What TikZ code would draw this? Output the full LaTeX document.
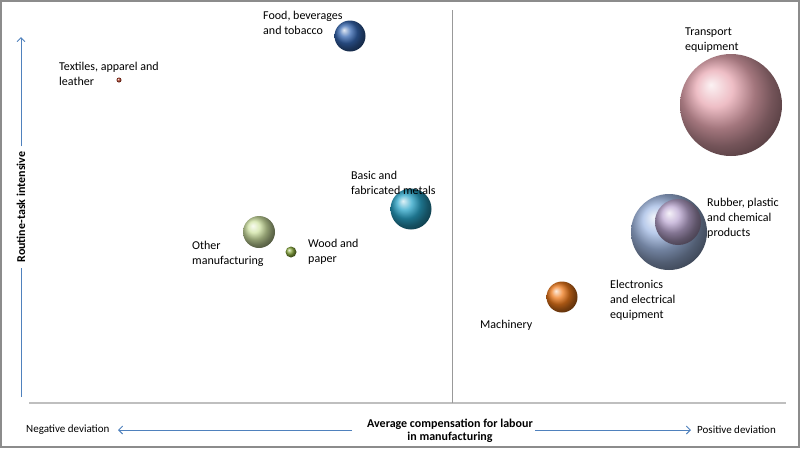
\documentclass[tikz,border=0pt]{standalone}
\usepackage{fontspec}
\setmainfont{Carlito}
\usetikzlibrary{arrows.meta}
\definecolor{axisblue}{HTML}{4F81BD}
\definecolor{framegray}{HTML}{8C8C8C}
\definecolor{gridgray}{HTML}{BFBFBF}
\definecolor{cfood}{HTML}{3566B0}
\definecolor{ctext}{HTML}{A83822}
\definecolor{ctrans}{HTML}{E8A8B2}
\definecolor{cmetal}{HTML}{2AA4C8}
\definecolor{cother}{HTML}{CFE2A2}
\definecolor{cwood}{HTML}{86A63C}
\definecolor{celec}{HTML}{A2BAE4}
\definecolor{crub}{HTML}{BCA8D2}
\definecolor{cmach}{HTML}{EE7A1C}
\tikzset{
  bubble/.style={circle, inner sep=0pt, minimum size=#1},
  lab/.style={font=\fontsize{12}{14.8}\selectfont, align=left, anchor=west, inner sep=0pt},
  axlab/.style={font=\fontsize{12}{12.5}\selectfont, inner sep=0pt},
  sidelab/.style={font=\fontsize{11}{13}\selectfont, inner sep=0pt},
  axarrow/.style={draw=axisblue, line width=0.9pt, -{Straight Barb[length=4pt,width=8pt]}},
}
\begin{document}
\begin{tikzpicture}[x=1pt,y=-1pt]
\useasboundingbox (0,0) rectangle (800,448);
\draw[framegray, line width=2pt] (1,1) rectangle (799,447);
% grid lines
\coordinate (hl) at (29,403);
\coordinate (hr) at (786,403);
\coordinate (vt) at (452,10);
\coordinate (vb) at (452,403);
\draw[gridgray, line width=2pt] (hl) -- (hr);
\draw[gridgray!80!black, line width=0.8pt] (vt) -- (vb);
% y axis
\coordinate (ybot) at (21,397);
\coordinate (ytop) at (21,37);
\node[axlab, font=\bfseries\fontsize{12}{14.8}\selectfont, rotate=90] (ylab) at (21,207) {Routine-task intensive};
\draw[draw=axisblue, line width=0.9pt] (ybot) -- ([yshift=-5pt]ylab.west);
\draw[axarrow] ([yshift=5pt]ylab.east) -- (ytop);
% x axis
\node[axlab, font=\bfseries\fontsize{12}{12.5}\selectfont, align=center] (xlab) at (450,431) {Average compensation for labour\\in manufacturing};
\node[sidelab, anchor=west] (neg) at (26,430) {Negative deviation};
\node[sidelab, anchor=east] (pos) at (776,430) {Positive deviation};
\coordinate (la) at (118,430);
\coordinate (ra) at (691,430);
\draw[axarrow] (352,430) -- (la);
\draw[axarrow] (535,430) -- (ra);
% bubbles
\node[bubble=31pt, ball color=cfood] (food) at (350,36) {};
\node[bubble=5pt, ball color=ctext] (tex) at (119,80) {};
\node[bubble=102pt, ball color=ctrans] (trans) at (731,105) {};
\node[bubble=41pt, ball color=cmetal] (metal) at (411,209) {};
\node[bubble=32pt, ball color=cother] (other) at (259,232) {};
\node[bubble=11pt, ball color=cwood] (wood) at (291,252) {};
\node[bubble=76pt, ball color=celec] (elec) at (669,232) {};
\node[bubble=46pt, ball color=crub] (rub) at (678,222) {};
\node[bubble=31pt, ball color=cmach] (mach) at (562,297) {};
% labels
\node[lab] (foodl) at (263,23) {Food, beverages\\and tobacco};
\node[lab] (texl) at (59,74) {Textiles, apparel and\\leather};
\node[lab] (transl) at (685,40) {Transport\\equipment};
\node[lab] (metall) at (351,183) {Basic and\\fabricated metals};
\node[lab] (otherl) at (192,254) {Other\\manufacturing};
\node[lab] (woodl) at (308,252) {Wood and\\paper};
\node[lab] (rubl) at (707,218) {Rubber, plastic\\and chemical\\products};
\node[lab] (elecl) at (610,300) {Electronics\\and electrical\\equipment};
\node[lab] (machl) at (480,325) {Machinery};
\end{tikzpicture}
\end{document}
